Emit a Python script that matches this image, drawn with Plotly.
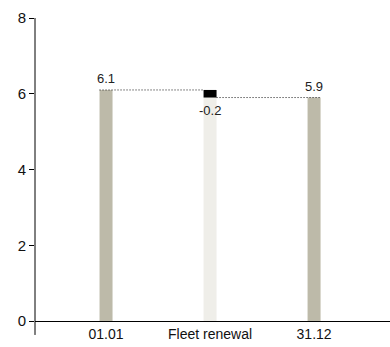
import plotly.graph_objects as go

# Bridge: opening value, change, closing value (in millions)
categories = ["01.01", "Fleet renewal", "31.12"]
opening = 6.1
changes = [-0.2]
closing = 5.9
y_ticks = [0, 2, 4, 6, 8]

TOTAL_COLOR = "#bdbaa9"
BASE_COLOR = "#efeee9"
CHANGE_COLOR = "#000000"
FONT = "Liberation Sans, Arial, sans-serif"
BAR_W = 0.125

fig = go.Figure()

# Opening and closing totals
fig.add_bar(
    x=[categories[0], categories[2]],
    y=[opening, closing],
    width=BAR_W,
    marker=dict(color=TOTAL_COLOR, line=dict(width=0)),
    hoverinfo="skip",
)

# Light base under the change step
step_low = min(opening, opening + changes[0])
fig.add_bar(
    x=[categories[1]],
    y=[step_low],
    width=BAR_W,
    marker=dict(color=BASE_COLOR, line=dict(width=0)),
    hoverinfo="skip",
)

# The change itself
fig.add_bar(
    x=[categories[1]],
    y=[abs(changes[0])],
    base=[step_low],
    width=BAR_W,
    marker=dict(color=CHANGE_COLOR, line=dict(width=0)),
    hoverinfo="skip",
)

# Dotted connectors between steps
conn = dict(color="#111111", width=1, dash="1px,2px")
fig.add_shape(type="line", xref="x", yref="y",
              x0=0 - BAR_W / 2, x1=1 - BAR_W / 2, y0=opening, y1=opening, line=conn)
fig.add_shape(type="line", xref="x", yref="y",
              x0=1 + BAR_W / 2, x1=2 + BAR_W / 2,
              y0=opening + changes[0], y1=opening + changes[0], line=conn)

# Y axis line extending slightly below the zero line
fig.add_shape(type="line", xref="paper", yref="paper",
              x0=0, x1=0, y0=-0.046, y1=1, line=dict(color="#000000", width=1))

# Value labels (positions by category index)
lab_font = dict(family=FONT, size=13, color="#222222")
fig.add_annotation(x=0, y=opening, text=f"{opening:g}", showarrow=False,
                   yanchor="bottom", yshift=2, font=lab_font)
fig.add_annotation(x=1, y=step_low, text=f"{changes[0]:g}", showarrow=False,
                   yanchor="top", yshift=-3, font=lab_font)
fig.add_annotation(x=2, y=closing, text=f"{closing:g}", showarrow=False,
                   yanchor="bottom", yshift=2, font=lab_font)

fig.update_layout(
    width=390, height=347,
    margin=dict(l=35, r=0, t=18, b=26),
    paper_bgcolor="white", plot_bgcolor="white",
    barmode="overlay",
    showlegend=False,
    font=dict(family=FONT, size=14, color="#111111"),
    xaxis=dict(
        type="category",
        categoryorder="array", categoryarray=categories,
        range=[-0.683, 2.73],
        showgrid=False, zeroline=False,
        showline=True, linecolor="#000000", linewidth=1,
        ticks="", ticklabelstandoff=0,
    ),
    yaxis=dict(
        range=[0, 8],
        tickvals=y_ticks,
        showgrid=False, zeroline=False,
        showline=False,
        ticks="outside", ticklen=5, tickcolor="#000000",
        tickfont=dict(size=15),
    ),
)

fig.write_html("out.html")
